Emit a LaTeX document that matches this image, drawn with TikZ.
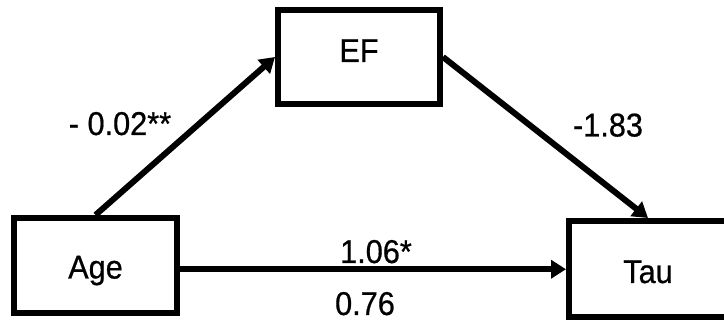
\documentclass[tikz,border=0pt]{standalone}
\usepackage{fontspec}
\setmainfont{Liberation Sans}[FakeStretch=0.93,FakeBold=0.6]
\usetikzlibrary{arrows.meta}
\tikzset{
  boxnode/.style={draw=black, line width=6pt, inner sep=0pt, font=\fontsize{33}{33}\selectfont},
  lbl/.style={inner sep=0pt, anchor=base, font=\fontsize{33}{33}\selectfont},
  conn/.style={line width=6pt, -{Triangle[length=15pt,width=18pt]}}
}
\begin{document}
\begin{tikzpicture}[x=1pt,y=-1pt]
\useasboundingbox (0,0) rectangle (724,320);
\node[boxnode, minimum width=162pt, minimum height=94pt, text height=22pt, text depth=12pt] (EF) at (359,57) {EF};
\node[boxnode, minimum width=163pt, minimum height=95pt, text height=26pt, text depth=0pt] (Age) at (95.5,265.5) {Age};
\node[boxnode, minimum width=158pt, minimum height=96.5pt, text height=27.5pt, text depth=0pt] (Tau) at (648,269.25) {Tau};
\draw[conn] (Age.north) -- (EF.west);
\draw[conn] (EF.east) -- (Tau.north);
\draw[conn] (Age.east |- Tau.west) -- (Tau.west);
\node[lbl] (l1) at (120,135) {- 0.02**};
\node[lbl] (l2) at (608,136.5) {-1.83};
\node[lbl] (l3) at (376,263) {1.06*};
\node[lbl] (l4) at (365,315) {0.76};
\end{tikzpicture}
\end{document}
